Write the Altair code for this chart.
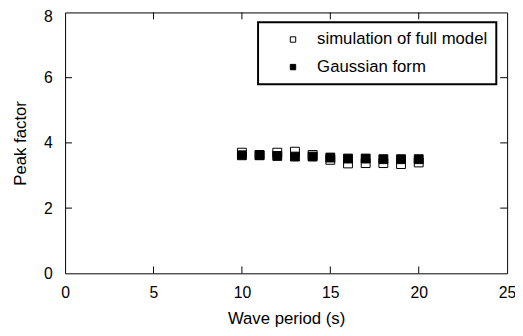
import altair as alt
import pandas as pd

# ---- data ----
periods = [10, 11, 12, 13, 14, 15, 16, 17, 18, 19, 20]
sim_full = [3.70, 3.63, 3.70, 3.73, 3.63, 3.48, 3.37, 3.38, 3.38, 3.35, 3.40]
gaussian = [3.62, 3.62, 3.60, 3.58, 3.58, 3.55, 3.52, 3.52, 3.50, 3.50, 3.50]
series_names = ["simulation of full model", "Gaussian form"]
x_ticks = [0, 5, 10, 15, 20, 25]
y_ticks = [0, 2, 4, 6, 8]

X_MAX, Y_MAX = 25, 8
W, H = 449, 265
TICK_PX = 7
tx = TICK_PX * X_MAX / W   # tick length in x data units
ty = TICK_PX * Y_MAX / H   # tick length in y data units

rows = []
for p, v in zip(periods, sim_full):
    rows.append({"Period": p, "Peak": v, "Series": series_names[0], "o": 0})
for p, v in zip(periods, gaussian):
    rows.append({"Period": p, "Peak": v, "Series": series_names[1], "o": 1})
df = pd.DataFrame(rows)

xs = alt.Scale(domain=[0, X_MAX], nice=False, zero=False)
ys = alt.Scale(domain=[0, Y_MAX], nice=False, zero=False)
XT = "Wave period (s)"
YT = "Peak factor"

xaxis = alt.Axis(values=x_ticks, ticks=False, domain=False, grid=False,
                 labelFontSize=16, labelPadding=12, titleFontSize=17,
                 titlePadding=10, titleFontWeight="normal", labelColor="black",
                 titleColor="black", labelFlush=False, labelOverlap=False)
yaxis = alt.Axis(values=y_ticks, ticks=False, domain=False, grid=False,
                 labelFontSize=16, labelPadding=13, titleFontSize=17,
                 titlePadding=14, titleFontWeight="normal", labelColor="black",
                 titleColor="black", labelFlush=False, labelOverlap=False,
                 labelOffset=alt.condition("datum.value == 8", alt.value(4), alt.value(0)))

points = alt.Chart(df).mark_point(
    shape="square", filled=True, size=81, opacity=1, stroke="black",
    strokeWidth=1, strokeOpacity=1, fillOpacity=1
).encode(
    x=alt.X("Period:Q", scale=xs, axis=xaxis, title=XT),
    y=alt.Y("Peak:Q", scale=ys, axis=yaxis, title=YT),
    fill=alt.Fill("Series:N",
                  scale=alt.Scale(domain=series_names, range=["white", "black"]),
                  legend=alt.Legend(title=None, orient="none", legendX=196, legendY=10,
                                    strokeColor="black", padding=9,
                                    symbolType="square", symbolSize=30,
                                    symbolStrokeColor="black", symbolStrokeWidth=1,
                                    symbolOffset=18, labelOffset=16,
                                    labelFontSize=17, labelColor="black",
                                    rowPadding=10, labelLimit=400)),
    order=alt.Order("o:Q"),
)

# tick marks pointing inward, drawn through the same scales
xt_in = [t for t in x_ticks if 0 < t < X_MAX]
yt_in = [t for t in y_ticks if 0 < t < Y_MAX]
bot = pd.DataFrame({"Period": xt_in, "Peak": [0.0] * len(xt_in), "Peak2": [ty] * len(xt_in)})
top = pd.DataFrame({"Period": xt_in, "Peak": [Y_MAX] * len(xt_in), "Peak2": [Y_MAX - ty] * len(xt_in)})
lef = pd.DataFrame({"Peak": yt_in, "Period": [0.0] * len(yt_in), "Period2": [tx] * len(yt_in)})
rig = pd.DataFrame({"Peak": yt_in, "Period": [X_MAX] * len(yt_in), "Period2": [X_MAX - tx] * len(yt_in)})

def vt(d):
    return alt.Chart(d).mark_rule(color="black", strokeWidth=1).encode(
        x=alt.X("Period:Q", scale=xs, axis=xaxis, title=XT),
        y=alt.Y("Peak:Q", scale=ys, axis=yaxis, title=YT),
        y2="Peak2:Q",
    )

def ht(d):
    return alt.Chart(d).mark_rule(color="black", strokeWidth=1).encode(
        x=alt.X("Period:Q", scale=xs, axis=xaxis, title=XT),
        x2="Period2:Q",
        y=alt.Y("Peak:Q", scale=ys, axis=yaxis, title=YT),
    )

chart = alt.layer(vt(bot), vt(top), ht(lef), ht(rig), points).properties(
    width=W, height=H,
    autosize=alt.AutoSizeParams(type="none"),
    padding={"left": 58, "top": 2, "right": 8, "bottom": 52},
).configure(
    font="Liberation Sans", background="white"
).configure_view(
    stroke="black", strokeWidth=1
).configure_legend(
    strokeWidth=2
)

chart.save("out.html", embed_options={"renderer": "svg", "actions": False})
